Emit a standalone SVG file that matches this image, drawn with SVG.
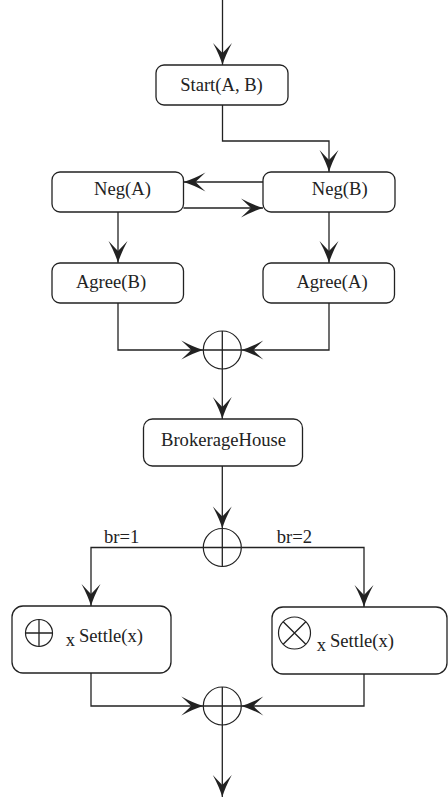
<svg xmlns="http://www.w3.org/2000/svg" width="448" height="801" viewBox="0 0 448 801">
<style>
.box{fill:#fff;stroke:#222;stroke-width:1.3}
.ln{fill:none;stroke:#222;stroke-width:1.3}
.t{font-family:"Liberation Serif","Times New Roman",serif;font-size:18.6px;fill:#222}
.m{text-anchor:middle}
.gw{fill:#fff;stroke:#222;stroke-width:1.2}
</style>
<defs>
<marker id="ah" markerUnits="userSpaceOnUse" markerWidth="30" markerHeight="30" refX="0" refY="0" orient="auto" overflow="visible">
<path d="M0,0 Q-10,-3 -22,-9.5 Q-14,-2 -12,0 Q-14,2 -22,9.5 Q-10,3 0,0 Z" fill="#222"/>
</marker>
</defs>
<rect width="448" height="801" fill="#fff"/>
<g id="connectors">
<path class="ln" d="M222.5,0 V65" marker-end="url(#ah)"/>
<path class="ln" d="M222.5,105 V141 H329 V172" marker-end="url(#ah)"/>
<path class="ln" d="M263,182 H183.5" marker-end="url(#ah)"/>
<path class="ln" d="M183.5,208 H263" marker-end="url(#ah)"/>
<path class="ln" d="M118,212 V263" marker-end="url(#ah)"/>
<path class="ln" d="M329,212 V263" marker-end="url(#ah)"/>
<path class="ln" d="M118,303 V350 H203.3" marker-end="url(#ah)"/>
<path class="ln" d="M329,303 V350 H241.3" marker-end="url(#ah)"/>
<path class="ln" d="M222.3,369 V419" marker-end="url(#ah)"/>
<path class="ln" d="M222.3,466 V528.5" marker-end="url(#ah)"/>
<path class="ln" d="M203.3,547.5 H91 V606" marker-end="url(#ah)"/>
<path class="ln" d="M241.3,547.5 H364 V607" marker-end="url(#ah)"/>
<path class="ln" d="M91,673 V706 H203.3" marker-end="url(#ah)"/>
<path class="ln" d="M364,674 V706 H241.3" marker-end="url(#ah)"/>
<path class="ln" d="M222.3,725 V797" marker-end="url(#ah)"/>
<text class="t" x="104" y="542.7">br=1</text>
<text class="t" x="276.7" y="542.7">br=2</text>
</g>
<g id="start">
<rect class="box" x="156" y="65" width="132" height="40" rx="8"/>
<text class="t m" x="221.5" y="91">Start(A, B)</text>
</g>
<g id="negA">
<rect class="box" x="52" y="172" width="131.5" height="40" rx="8"/>
<text class="t m" x="122.5" y="195">Neg(A)</text>
</g>
<g id="negB">
<rect class="box" x="263" y="172" width="132" height="40" rx="8"/>
<text class="t m" x="339.7" y="195">Neg(B)</text>
</g>
<g id="agreeB">
<rect class="box" x="52" y="263" width="131.5" height="40" rx="8"/>
<text class="t m" x="111" y="288">Agree(B)</text>
</g>
<g id="agreeA">
<rect class="box" x="263" y="263" width="131.5" height="40" rx="8"/>
<text class="t m" x="332" y="288">Agree(A)</text>
</g>
<g id="join1">
<circle class="gw" cx="222.3" cy="350" r="19"/>
<path class="ln" d="M222.3,331 V369 M203.3,350 H241.3" stroke-width="1.2"/>
</g>
<g id="brokerage">
<rect class="box" x="143.5" y="419" width="159" height="47" rx="9"/>
<text class="t m" x="223.5" y="446">BrokerageHouse</text>
</g>
<g id="split">
<circle class="gw" cx="222.3" cy="547.5" r="19"/>
<path class="ln" d="M222.3,528.5 V566.5 M203.3,547.5 H241.3" stroke-width="1.2"/>
</g>
<g id="settle1">
<rect class="box" x="12" y="606" width="159" height="67" rx="11"/>
<circle class="gw" cx="39" cy="633" r="13.5"/>
<path class="ln" d="M39,619.5 V646.5 M25.5,633 H52.5" stroke-width="1.2"/>
<text class="t" x="65.7" y="646">x</text>
<text class="t" x="79" y="642">Settle(x)</text>
</g>
<g id="settle2">
<rect class="box" x="272" y="607" width="175" height="67" rx="11"/>
<circle class="gw" cx="294.5" cy="633" r="16"/>
<path class="ln" d="M283.2,621.7 L305.8,644.3 M305.8,621.7 L283.2,644.3" stroke-width="1.2"/>
<text class="t" x="316.7" y="651">x</text>
<text class="t" x="330" y="647">Settle(x)</text>
</g>
<g id="join2">
<circle class="gw" cx="222.3" cy="706" r="19"/>
<path class="ln" d="M222.3,687 V725 M203.3,706 H241.3" stroke-width="1.2"/>
</g>
</svg>
